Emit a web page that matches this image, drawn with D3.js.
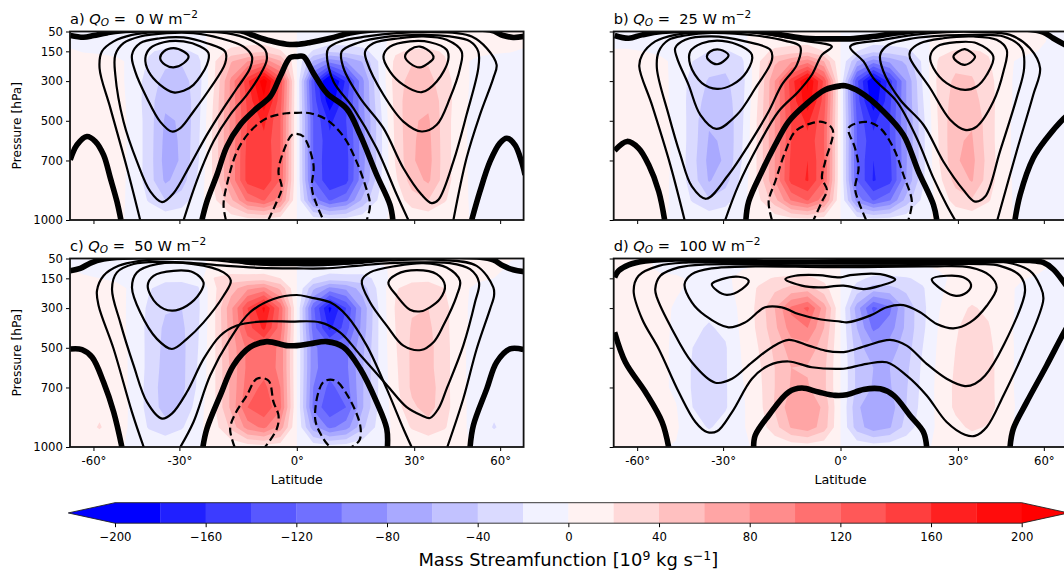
<!DOCTYPE html>
<html>
<head>
<meta charset="utf-8">
<script src="https://cdn.jsdelivr.net/npm/d3@7"></script>
<style>
html, body { margin: 0; padding: 0; background: #fff; overflow: hidden; }
text { font-family: "DejaVu Sans", sans-serif; fill: #000; }
</style>
</head>
<body>
<svg id="fig" width="1064" height="570"></svg>
<script>
// axis values
const latTicks = [-60, -30, 0, 30, 60];
const pressureTicks = [50, 150, 300, 500, 700, 1000];
const cbarTicks = [-200, -160, -120, -80, -40, 0, 40, 80, 120, 160, 200];
const panelLetters = ['a', 'b', 'c', 'd'];
const panelQ = ['0', '25', '50', '100'];

// grid of the filled field: columns are sin(lat), rows are pressure
const sinCols = [-.98,-.91,-.84,-.77,-.70,-.63,-.56,-.49,-.42,-.35,-.28,-.21,-.14,-.07,0,.07,.14,.21,.28,.35,.42,.49,.56,.63,.70,.77,.84,.91,.98];
const pRows = [50,100,150,200,300,400,500,600,700,800,900,1000];

const levels = [-200,-180,-160,-140,-120,-100,-80,-60,-40,-20,0,20,40,60,80,100,120,140,160,180,200];
const levelColors = ['#0000ff','#2020ff','#3c3cff','#5858ff','#7070ff','#8e8eff','#a9a9ff','#c2c2ff','#dadaff','#f2f2ff',
                     '#fff2f2','#ffd9d9','#ffc0c0','#ffa5a5','#ff8c8c','#ff7070','#ff5858','#ff3e3e','#ff2020','#ff0c0c','#ff0000'];
const underColor = '#0000ff';

const fieldA = [
[-2,-3,-4,-4,-4,-4,-3,-3,-2,2,3,4,4,3,0,-3,-4,-4,-3,-2,2,3,3,4,4,4,4,3,2],
[-4,-8,-10,-10,-10,-10,-8,-6,-4,4,10,12,12,6,0,-6,-12,-12,-10,-4,4,6,8,10,10,10,8,6,4],
[3,-1,-3,-6,-12,-18,-24,-24,-16,10,26,32,36,22,0,-22,-36,-32,-26,-10,16,24,24,18,12,6,3,1,-3],
[4,8,8,5,-5,-22,-36,-38,-26,18,58,80,92,62,0,-62,-92,-80,-58,-18,26,38,38,22,5,-5,-8,-8,-4],
[5,9,9,6,-6,-30,-46,-48,-30,20,85,155,215,135,0,-135,-215,-155,-85,-20,30,48,46,30,6,-6,-9,-9,-5],
[5,9,9,7,-5,-32,-55,-56,-28,25,85,145,195,128,0,-128,-195,-145,-85,-25,28,56,55,32,5,-7,-9,-9,-5],
[6,9,10,7,-4,-30,-63,-58,-26,28,85,140,165,120,0,-120,-165,-140,-88,-30,26,58,63,30,4,-7,-10,-9,-6],
[6,9,10,7,-4,-30,-66,-58,-24,28,85,145,155,120,0,-120,-155,-145,-88,-30,24,58,66,30,4,-7,-10,-9,-6],
[6,10,10,7,-4,-30,-68,-58,-22,28,85,148,158,120,0,-120,-158,-148,-88,-30,22,58,68,30,4,-7,-10,-10,-6],
[6,10,10,7,-5,-30,-64,-50,-16,26,85,148,158,118,0,-118,-158,-148,-85,-26,16,50,64,30,5,-7,-10,-10,-6],
[5,8,8,5,-4,-22,-40,-30,-8,16,55,105,122,88,0,-88,-122,-105,-55,-16,8,30,40,22,4,-5,-8,-8,-5],
[1,2,2,1,-1,-4,-5,-4,-2,2,6,10,12,8,0,-8,-12,-10,-6,-2,2,4,5,4,1,-1,-2,-2,-1]
];
const fieldB = [
[-2,-3,-3,-4,-4,-4,-3,-2,-1,2,3,4,4,3,0,-3,-4,-4,-3,-2,2,3,3,4,4,4,2,-2,-2],
[-6,-6,-6,-8,-10,-10,-8,-5,-2,4,10,12,12,6,0,-6,-12,-12,-10,-3,4,6,8,10,10,8,4,-4,-5],
[2,2,0,-3,-10,-16,-20,-22,-14,10,25,30,35,20,0,-20,-35,-30,-25,-10,14,22,22,18,12,5,0,-2,-3],
[5,8,7,4,-4,-20,-32,-34,-24,16,55,75,90,60,0,-60,-90,-75,-55,-16,24,34,34,22,5,-4,-7,-8,-5],
[6,9,9,6,-5,-28,-42,-44,-28,18,80,150,205,135,0,-135,-205,-150,-80,-18,28,44,42,28,5,-6,-9,-9,-6],
[6,9,9,6,-5,-30,-48,-50,-26,22,80,145,195,130,0,-130,-195,-145,-80,-22,26,50,48,30,5,-6,-9,-9,-6],
[6,9,9,7,-4,-30,-58,-56,-24,25,80,140,165,122,0,-122,-165,-140,-82,-26,24,56,58,30,4,-7,-9,-9,-6],
[6,9,10,7,-4,-30,-62,-58,-22,25,80,140,155,120,0,-120,-155,-140,-82,-26,22,58,62,30,4,-7,-10,-9,-6],
[6,10,10,7,-4,-32,-66,-58,-20,25,80,145,160,122,0,-122,-160,-145,-82,-26,20,58,66,32,4,-7,-10,-10,-6],
[6,10,10,7,-5,-30,-62,-48,-14,24,80,148,162,120,0,-120,-162,-148,-80,-24,14,48,62,30,5,-7,-10,-10,-6],
[5,8,8,5,-4,-22,-38,-28,-7,15,52,102,122,88,0,-88,-122,-102,-52,-15,7,28,38,22,4,-5,-8,-8,-5],
[1,2,2,1,-1,-4,-5,-4,-2,2,6,10,12,8,0,-8,-12,-10,-6,-2,2,4,5,4,1,-1,-2,-2,-1]
];
const fieldC = [
[-1,-3,-3,-3,-3,-3,-3,-2,-1,1,1,1,1,1,0,-1,-1,-1,-1,1,1,2,2,2,2,3,2,1,-1],
[2,-5,-8,-8,-9,-9,-8,-5,-2,2,5,8,8,4,0,-5,-9,-8,-5,-2,2,5,7,8,8,7,5,-3,-4],
[5,3,0,-3,-8,-14,-15,-14,-10,22,32,28,30,20,0,-20,-30,-28,-30,-12,10,14,15,14,8,3,0,-3,-5],
[5,8,7,5,-3,-18,-28,-30,-22,16,50,75,85,55,0,-55,-85,-75,-50,-14,18,28,30,20,4,-4,-7,-8,-6],
[6,8,8,6,-4,-24,-38,-40,-24,18,75,140,185,115,0,-115,-185,-140,-75,-18,22,38,40,26,4,-6,-8,-9,-6],
[6,9,9,6,-4,-26,-44,-44,-22,18,72,130,165,110,0,-110,-165,-130,-72,-18,20,42,44,26,4,-6,-8,-9,-6],
[6,9,9,7,-3,-26,-46,-46,-20,18,68,105,115,95,0,-95,-115,-105,-65,-18,18,44,46,28,3,-7,-9,-9,-6],
[6,9,10,7,-3,-26,-48,-46,-18,18,65,105,112,95,0,-95,-112,-105,-62,-18,16,44,46,28,3,-7,-10,-9,-6],
[7,10,12,7,-3,-28,-50,-46,-16,18,65,110,125,100,0,-100,-125,-110,-62,-18,14,44,50,28,3,-7,-10,-10,-7],
[7,11,14,8,-3,-28,-48,-38,-10,18,65,120,135,105,0,-105,-135,-120,-62,-16,10,36,48,28,4,-8,-14,-10,-7],
[6,10,22,7,-3,-22,-32,-22,-5,12,45,90,105,72,0,-72,-105,-90,-45,-12,5,22,32,22,3,-6,-22,-9,-6],
[1,2,3,1,-1,-3,-4,-3,-1,2,5,8,10,7,0,-7,-10,-8,-5,-2,2,3,4,3,1,-1,-2,-2,-1]
];
const fieldD = [
[2,2,1,-1,-2,-2,-2,-2,-1,1,1,1,1,1,0,-1,-1,-1,-1,1,2,2,2,2,2,2,2,-1,-1],
[3,4,3,-2,-4,-4,-4,-3,-1,2,4,6,6,3,0,-3,-6,-6,-4,-2,1,3,5,6,6,5,3,-3,-4],
[3,5,4,3,2,-2,-3,-3,5,14,22,25,25,14,0,-14,-25,-25,-22,-15,-3,3,5,6,4,1,-2,-4,-4],
[4,6,5,4,2,-3,-6,-5,6,22,35,45,48,28,0,-28,-48,-45,-35,-22,-3,6,10,10,3,-2,-5,-5,-4],
[5,7,6,5,-2,-10,-15,-12,5,25,60,105,125,70,0,-70,-125,-105,-55,-25,-1,14,22,16,4,-3,-6,-6,-4],
[5,7,7,5,-3,-16,-22,-16,4,24,55,90,100,60,0,-60,-105,-90,-55,-24,2,18,28,22,4,-4,-7,-6,-4],
[5,7,7,5,-4,-20,-28,-22,2,20,45,70,72,50,0,-50,-75,-70,-50,-20,4,20,30,26,5,-4,-7,-6,-4],
[5,7,7,5,-4,-22,-30,-22,0,16,40,60,58,45,0,-45,-60,-60,-45,-16,5,22,30,28,6,-5,-7,-6,-4],
[5,7,7,5,-4,-22,-30,-22,-2,14,40,62,62,45,0,-45,-62,-62,-42,-14,6,24,30,28,6,-5,-8,-7,-4],
[5,7,8,5,1,-20,-28,-22,-3,12,42,72,78,55,0,-55,-80,-70,-40,-12,5,24,30,28,8,-5,-8,-7,-4],
[4,6,7,5,2,-10,-22,-12,-2,8,32,62,72,50,0,-50,-72,-62,-32,-8,3,14,24,18,4,-4,-7,-6,-4],
[1,2,2,1,-1,-3,-4,-3,-1,1,4,7,9,5,0,-5,-9,-7,-4,-1,1,3,4,2,1,-1,-2,-2,-1]
];

// black contours, read as [sin(lat), pressure]
const thickA = [
[[-.965,697],[-.936,621],[-.894,579],[-.858,604],[-.823,672],[-.794,789],[-.766,907],[-.749,1000]],
[[-.965,70],[-.908,79],[-.865,70],[-.809,57],[-.752,47],[-.241,46],[-.184,70],[-.113,97],[-.043,114],[0,115],[.057,105],[.142,84],[.227,57],[.312,43],[.823,43],[.879,70],[.922,80],[.972,74]],
[[-.404,1000],[-.383,907],[-.340,772],[-.298,630],[-.241,520],[-.170,436],[-.113,378],[-.071,277],[-.028,181],[0,176],[.028,176],[.071,260],[.128,361],[.213,440],[.270,571],[.340,772],[.397,924],[.409,1000]],
[[.745,1000],[.780,856],[.823,705],[.865,613],[.894,588],[.929,621],[.957,705],[.972,772]]
];
const thinA = [
[[-.667,1000],[-.723,739],[-.794,436],[-.840,235],[-.830,151],[-.780,100],[-.702,67],[-.596,53],[-.440,50],[-.298,58],[-.199,92],[-.135,142],[-.128,193],[-.156,268],[-.213,369],[-.284,470],[-.355,604],[-.411,756],[-.447,873],[-.482,1000]],
[[.475,1000],[.426,873],[.340,638],[.241,436],[.156,302],[.128,168],[.135,134],[.184,100],[.298,75],[.426,58],[.567,53],[.681,58],[.745,75],[.809,134],[.851,218],[.837,285],[.780,470],[.723,688],[.667,1000]]
];
const loopsA = [
[[-.574,910],[-.624,856],[-.681,705],[-.738,504],[-.773,268],[-.773,168],[-.738,109],[-.667,75],[-.553,58],[-.440,58],[-.326,84],[-.227,126],[-.191,176],[-.199,235],[-.255,336],[-.312,436],[-.383,571],[-.454,722],[-.525,865]],
[[-.532,554],[-.582,504],[-.638,386],[-.688,252],[-.702,168],[-.667,109],[-.582,84],[-.482,80],[-.383,109],[-.305,151],[-.305,210],[-.369,336],[-.440,453],[-.496,537]],
[[-.525,357],[-.582,319],[-.631,252],[-.645,184],[-.624,134],[-.567,104],[-.482,100],[-.411,126],[-.376,159],[-.383,218],[-.440,319],[-.482,349]],
[[-.582,184],[-.567,151],[-.525,134],[-.482,151],[-.461,176],[-.482,210],[-.525,231],[-.560,218]],
[[.574,915],[.532,873],[.454,739],[.369,537],[.270,386],[.199,235],[.191,151],[.255,109],[.397,75],[.539,67],[.652,75],[.738,100],[.773,151],[.773,235],[.723,470],[.667,705],[.603,898]],
[[.532,554],[.454,504],[.369,369],[.298,201],[.291,151],[.326,109],[.440,84],[.539,75],[.638,92],[.702,151],[.695,235],[.652,386],[.596,520]],
[[.532,356],[.454,319],[.397,252],[.369,176],[.397,126],[.482,100],[.567,104],[.638,142],[.645,193],[.596,302]],
[[.461,176],[.482,142],[.525,126],[.574,159],[.582,184],[.560,210],[.525,231],[.482,210]]
];
const dashA = [
[[-.302,1000],[-.312,924],[-.298,823],[-.255,655],[-.199,554],[-.128,487],[-.043,462],[0,460],[.057,462],[.128,495],[.199,579],[.248,688],[.291,823],[.312,924],[.298,1000]],
[[-.121,1000],[-.085,907],[-.064,840],[-.078,756],[-.057,655],[-.021,571],[0,566],[.028,579],[.071,722],[.064,840],[.085,924],[.113,1000]]
];

const thickB = [
[[-.962,650],[-.909,604],[-.860,638],[-.817,722],[-.774,856],[-.749,1000]],
[[-.962,70],[-.902,84],[-.845,67],[-.760,50],[-.500,44],[-.321,53],[-.235,70],[-.150,84],[0,87],[.041,87],[.126,77],[.240,58],[.353,43],[.807,40],[.863,53],[.906,84],[.956,117],[.977,130]],
[[-.403,1000],[-.391,907],[-.335,756],[-.278,621],[-.221,504],[-.150,420],[-.065,344],[0,324],[.020,324],[.084,356],[.183,453],[.268,571],[.332,756],[.396,924],[.410,1000]],
[[.743,1000],[.765,873],[.821,688],[.878,588],[.952,487],[.977,462]]
];
const thinB = [
[[-.664,1000],[-.725,722],[-.803,420],[-.857,226],[-.845,168],[-.789,100],[-.704,67],[-.576,53],[-.434,50],[-.292,67],[-.165,95],[-.037,126],[-.079,168],[-.122,268],[-.179,352],[-.264,453],[-.349,621],[-.434,823],[-.491,1000]],
[[.488,1000],[.452,924],[.396,789],[.325,588],[.240,403],[.140,285],[.098,201],[.041,126],[.183,92],[.311,67],[.452,53],[.594,53],[.722,67],[.807,134],[.850,235],[.821,369],[.750,655],[.668,1000]]
];
const loopsB = [
[[-.572,893],[-.633,831],[-.682,672],[-.732,470],[-.782,235],[-.774,151],[-.732,92],[-.661,70],[-.548,57],[-.363,70],[-.235,97],[-.172,126],[-.186,218],[-.250,319],[-.306,453],[-.391,621],[-.477,772]],
[[-.529,541],[-.597,470],[-.647,319],[-.696,184],[-.704,134],[-.661,92],[-.548,75],[-.406,100],[-.299,142],[-.292,193],[-.363,336],[-.441,470]],
[[-.526,339],[-.590,310],[-.640,218],[-.640,151],[-.590,109],[-.505,97],[-.420,126],[-.377,168],[-.399,252],[-.462,319]],
[[-.569,176],[-.555,151],[-.512,142],[-.477,168],[-.491,193],[-.526,215],[-.562,193]],
[[.573,907],[.523,848],[.438,705],[.353,520],[.254,394],[.183,252],[.169,168],[.204,117],[.311,84],[.452,70],[.594,67],[.694,75],[.772,134],[.782,235],[.750,386],[.679,655],[.616,882]],
[[.530,546],[.467,495],[.382,336],[.296,184],[.296,151],[.339,109],[.438,84],[.566,75],[.665,92],[.708,142],[.694,252],[.651,403],[.580,529]],
[[.530,344],[.452,310],[.396,235],[.382,176],[.410,126],[.495,104],[.580,109],[.651,176],[.623,268],[.580,327]],
[[.481,176],[.502,151],[.530,139],[.573,176],[.566,193],[.530,218],[.495,201]]
];
const dashB = [
[[-.292,1000],[-.306,907],[-.278,806],[-.235,655],[-.193,554],[-.122,512],[-.072,507],[-.033,546],[-.065,705],[-.079,789],[-.058,848],[-.079,907],[-.115,1000]],
[[.109,1000],[.077,907],[.062,840],[.077,739],[.062,638],[.034,537],[.070,512],[.119,507],[.169,537],[.226,638],[.268,772],[.304,907],[.289,1000]]
];

const thickC = [
[[-.965,506],[-.915,509],[-.872,547],[-.823,673],[-.780,824],[-.745,1000]],
[[-.965,112],[-.922,100],[-.879,73],[-.823,53],[-.740,44],[-.298,46],[-.213,67],[-.128,73],[0,73],[.213,67],[.298,57],[.397,44],[.780,44],[.837,57],[.879,87],[.922,107],[.972,117]],
[[-.240,48],[0,58],[.240,48]],
[[-.400,1000],[-.383,908],[-.326,740],[-.270,589],[-.199,497],[-.128,469],[-.043,489],[0,489],[.057,480],[.128,469],[.199,497],[.270,606],[.340,774],[.383,908],[.386,1000]],
[[.738,1000],[.752,891],[.809,707],[.851,573],[.908,506],[.965,509]]
];
const thinC = [
[[-.652,1000],[-.702,824],[-.780,506],[-.844,288],[-.851,212],[-.823,137],[-.759,87],[-.667,62],[-.582,53],[-.369,57],[-.255,70],[-.128,82],[0,84],[.113,84],[.255,73],[.397,60],[.610,57],[.766,87],[.837,196],[.840,238],[.823,305],[.766,506],[.709,757],[.641,1000]],
[[-.496,1000],[-.440,874],[-.369,640],[-.284,455],[-.199,321],[-.099,254],[0,234],[.057,246],[.142,271],[.213,338],[.298,489],[.383,707],[.454,908],[.489,1000]]
];
const loopsC = [
[[-.787,204],[-.766,120],[-.695,78],[-.582,67],[-.440,73],[-.298,87],[-.156,97],[0,100],[.113,100],[.255,87],[.397,73],[.539,70],[.652,73],[.738,104],[.776,171],[.759,271],[.709,489],[.638,707],[.603,807],[.567,854],[.532,841],[.468,799],[.383,687],[.270,536],[.184,422],[.099,372],[-.028,368],[-.156,368],[-.255,388],[-.326,439],[-.397,556],[-.468,723],[-.532,832],[-.574,857],[-.638,774],[-.695,589],[-.752,372]],
[[-.532,506],[-.596,455],[-.667,321],[-.702,196],[-.681,120],[-.596,78],[-.440,78],[-.312,120],[-.281,162],[-.312,238],[-.397,372],[-.468,455]],
[[-.532,313],[-.596,279],[-.635,187],[-.610,137],[-.525,112],[-.440,120],[-.397,171],[-.411,221],[-.468,288]],
[[.529,511],[.454,489],[.383,388],[.312,271],[.277,162],[.312,120],[.426,87],[.539,73],[.638,95],[.695,162],[.681,238],[.624,388],[.582,472]],
[[.529,316],[.482,308],[.426,238],[.390,171],[.426,129],[.511,109],[.596,129],[.631,187],[.610,254],[.567,296]]
];
const dashC = [
[[-.265,1000],[-.284,908],[-.262,832],[-.213,740],[-.170,656],[-.121,665],[-.099,774],[-.078,841],[-.085,908],[-.135,1000]],
[[.135,992],[.113,958],[.078,857],[.113,673],[.163,665],[.220,748],[.270,891],[.267,966],[.234,1000]]
];

const thickD = [
[[-.962,422],[-.916,573],[-.831,723],[-.760,874],[-.732,1000]],
[[-.962,145],[-.945,112],[-.902,82],[-.831,62],[-.718,53],[-.576,57],[-.363,67],[0,67],[.382,67],[.807,60],[.863,70],[.906,104],[.952,171],[.977,212]],
[[.722,1000],[.736,908],[.793,774],[.878,589],[.952,422],[.977,372]],
[[-.370,1000],[-.363,941],[-.306,841],[-.221,723],[-.165,703],[-.094,723],[-.023,740],[.027,737],[.098,710],[.169,707],[.226,740],[.296,841],[.353,924],[.367,1000]]
];
const thinD = [];
const loopsD = [
[[-.881,212],[-.845,355],[-.774,506],[-.689,723],[-.618,874],[-.569,924],[-.526,921],[-.462,824],[-.377,656],[-.306,589],[-.221,569],[-.122,598],[0,606],[.027,603],[.112,581],[.197,573],[.282,640],[.367,740],[.452,874],[.530,938],[.573,944],[.623,899],[.694,740],[.786,506],[.864,254],[.850,187],[.807,112],[.708,70],[.382,66],[0,70],[-.647,70],[-.774,87],[-.860,137]],
[[-.789,204],[-.782,246],[-.718,405],[-.633,573],[-.533,676],[-.462,656],[-.377,573],[-.292,497],[-.221,460],[-.136,489],[-.065,514],[0,522],[.027,519],[.112,489],[.211,460],[.282,489],[.367,581],[.452,656],[.530,693],[.573,681],[.616,640],[.694,489],[.786,212],[.765,137],[.679,87],[.594,78],[.240,84],[-.044,87],[-.576,80],[-.689,95],[-.767,137]],
[[-.664,179],[-.633,271],[-.576,338],[-.477,397],[-.406,372],[-.321,296],[-.250,296],[-.179,330],[-.094,355],[0,368],[.027,372],[.126,338],[.197,296],[.268,285],[.339,321],[.410,380],[.481,402],[.552,372],[.623,288],[.665,196],[.637,137],[.552,95],[.382,90],[-.044,94],[-.363,90],[-.548,100],[-.633,129]],
[[-.548,179],[-.505,154],[-.434,142],[-.391,162],[-.420,204],[-.484,233],[-.526,212]],
[[.389,154],[.452,137],[.523,145],[.556,182],[.538,221],[.492,238],[.438,212]],
[[-.235,154],[-.193,137],[-.094,134],[0,145],[.041,134],[.169,129],[.233,157],[.169,187],[.098,204],[.013,187],[-.094,196],[-.165,187]]
];
const dashD = [];

const fields = [fieldA, fieldB, fieldC, fieldD];
const thicks = [thickA, thickB, thickC, thickD];
const thins = [thinA, thinB, thinC, thinD];
const loops = [loopsA, loopsB, loopsC, loopsD];
const dashes = [dashA, dashB, dashC, dashD];

const svg = d3.select('#fig');
const panelW = 453.6, panelH = 188.5;
const panelX = [70, 613.7, 70, 613.7];
const panelY = [31.5, 31.5, 258.5, 258.5];
const sinEdge = Math.sin(75 * Math.PI / 180);

const colIndex = d3.scaleLinear().domain([0, sinCols.length - 1]).range([sinCols[0], sinCols[sinCols.length - 1]]);
const rowIndex = d3.scaleLinear().domain(pRows.map((d, i) => i)).range(pRows);

panelLetters.forEach((letter, k) => {
    const g = svg.append('g').attr('transform', `translate(${panelX[k]},${panelY[k]})`);
    const x = d3.scaleLinear().domain([-sinEdge, sinEdge]).range([0, panelW]);
    const y = d3.scaleLinear().domain([50, 1000]).range([0, panelH]);

    g.append('clipPath').attr('id', 'clip' + k)
        .append('rect').attr('width', panelW).attr('height', panelH);
    const body = g.append('g').attr('clip-path', `url(#clip${k})`);

    // filled contours, lowest colour first
    body.append('rect').attr('width', panelW).attr('height', panelH).attr('fill', underColor);
    const contours = d3.contours()
        .size([sinCols.length, pRows.length])
        .thresholds(levels)(fields[k].flat());
    const toPixels = d3.geoTransform({
        point(cx, cy) {
            this.stream.point(x(colIndex(cx - 0.5)), y(rowIndex(Math.max(cy - 0.5, -0.5))));
        }
    });
    body.selectAll('path.fill')
        .data(contours)
        .join('path')
        .attr('class', 'fill')
        .attr('d', d3.geoPath(toPixels))
        .attr('fill', (d, i) => levelColors[i]);

    // black contours
    const line = d3.line().x(d => x(d[0])).y(d => y(d[1])).curve(d3.curveCatmullRom.alpha(0.5));
    const loop = d3.line().x(d => x(d[0])).y(d => y(d[1])).curve(d3.curveCatmullRomClosed.alpha(0.5));
    const drawLines = (data, gen, width, dash) => body.append('g').selectAll('path')
        .data(data).join('path')
        .attr('d', gen)
        .attr('fill', 'none').attr('stroke', '#000')
        .attr('stroke-width', width)
        .attr('stroke-dasharray', dash)
        .attr('stroke-linejoin', 'round');
    drawLines(thins[k], line, 2.2, null);
    drawLines(loops[k], loop, 2.2, null);
    drawLines(dashes[k], line, 2.2, '8,4');
    drawLines(thicks[k], line, 5.6, null);

    // axes
    const isBottom = k >= 2, isLeft = k % 2 === 0;
    const xAxis = d3.axisBottom(x)
        .tickValues(latTicks.map(d => Math.sin(d * Math.PI / 180)))
        .tickSize(4).tickPadding(5.5)
        .tickFormat((d, i) => isBottom ? latTicks[i] + '°' : '');
    const yAxis = d3.axisLeft(y)
        .tickValues(pressureTicks)
        .tickSize(4).tickPadding(3)
        .tickFormat(d => isLeft ? d : '');
    const gx = g.append('g').attr('transform', `translate(0,${panelH})`).call(xAxis);
    const gy = g.append('g').call(yAxis);
    [gx, gy].forEach(a => {
        a.select('.domain').remove();
        a.selectAll('line').attr('stroke', '#000').attr('stroke-width', 1);
        a.selectAll('text').attr('font-size', 11.7).attr('font-family', '"DejaVu Sans"').attr('fill', '#000');
    });
    g.append('rect').attr('width', panelW).attr('height', panelH)
        .attr('fill', 'none').attr('stroke', '#111').attr('stroke-width', 1.8);

    if (isBottom) {
        g.append('text').attr('x', panelW / 2).attr('y', panelH + 37)
            .attr('text-anchor', 'middle').attr('font-size', 12.7).text('Latitude');
    }
    if (isLeft) {
        g.append('text').attr('transform', `translate(-49,${panelH / 2}) rotate(-90)`)
            .attr('text-anchor', 'middle').attr('font-size', 12.2).text('Pressure [hPa]');
    }

    // panel title
    const title = g.append('text').attr('x', 0).attr('y', -8).attr('font-size', 14.6);
    title.append('tspan').text(letter + ') ');
    title.append('tspan').attr('font-style', 'italic').text('Q');
    title.append('tspan').attr('font-style', 'italic').attr('font-size', 10.5).attr('dy', 2).text('O');
    title.append('tspan').attr('dy', -2).text(' =\u00a0 ' + panelQ[k] + ' W m');
    title.append('tspan').attr('font-size', 10.5).attr('dy', -5.5).text('\u22122');
});

// colour bar
const cbarX = d3.scaleLinear().domain([-200, 200]).range([115, 1021.7]);
const cbarTop = 502.7, cbarH = 20.5, tipLen = 46.7;
const cbar = svg.append('g');
cbar.selectAll('rect')
    .data(levels.slice(0, -1))
    .join('rect')
    .attr('x', d => cbarX(d))
    .attr('y', cbarTop)
    .attr('width', d => cbarX(d + 20) - cbarX(d) + 0.3)
    .attr('height', cbarH)
    .attr('fill', (d, i) => levelColors[i]);
const tip = (xBase, dir, col) => cbar.append('path')
    .attr('d', d3.line()([[xBase, cbarTop], [xBase + dir * tipLen, cbarTop + cbarH / 2], [xBase, cbarTop + cbarH]]))
    .attr('fill', col);
tip(cbarX(-200), -1, '#0000ff');
tip(cbarX(200), 1, '#ff0000');
cbar.append('path')
    .attr('d', d3.line()([
        [cbarX(-200), cbarTop], [cbarX(200), cbarTop], [cbarX(200) + tipLen, cbarTop + cbarH / 2],
        [cbarX(200), cbarTop + cbarH], [cbarX(-200), cbarTop + cbarH], [cbarX(-200) - tipLen, cbarTop + cbarH / 2]
    ]) + 'Z')
    .attr('fill', 'none').attr('stroke', '#222').attr('stroke-width', 0.9);
const cbarAxis = d3.axisBottom(cbarX).tickValues(cbarTicks).tickSize(4).tickPadding(5.5)
    .tickFormat(d => d < 0 ? '\u2212' + (-d) : d);
const gc = svg.append('g').attr('transform', `translate(0,${cbarTop + cbarH})`).call(cbarAxis);
gc.select('.domain').remove();
gc.selectAll('line').attr('stroke', '#000').attr('stroke-width', 1);
gc.selectAll('text').attr('font-size', 11.7).attr('font-family', '"DejaVu Sans"').attr('fill', '#000');

const cbarLabel = svg.append('text').attr('x', 568.3).attr('y', 566)
    .attr('text-anchor', 'middle').attr('font-size', 17.9);
cbarLabel.append('tspan').text('Mass Streamfunction [10');
cbarLabel.append('tspan').attr('font-size', 12.5).attr('dy', -6.5).text('9');
cbarLabel.append('tspan').attr('dy', 6.5).text(' kg s');
cbarLabel.append('tspan').attr('font-size', 12.5).attr('dy', -6.5).text('\u22121');
cbarLabel.append('tspan').attr('dy', 6.5).text(']');
</script>
</body>
</html>
